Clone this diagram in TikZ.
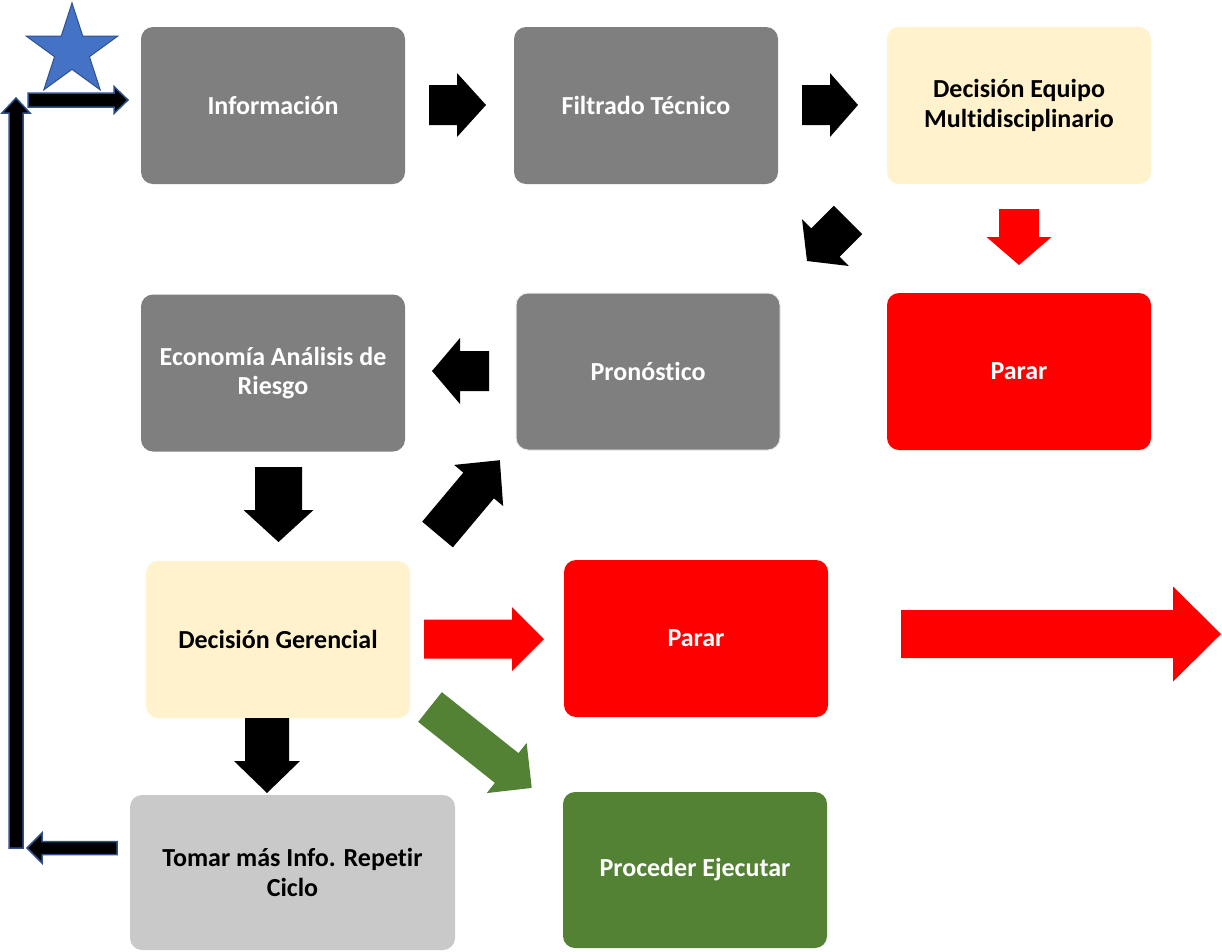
\documentclass[tikz,border=0pt]{standalone}
\usepackage{fontspec}
\setmainfont[Ligatures=NoCommon]{Carlito}
\usetikzlibrary{shapes.geometric}
\definecolor{boxgray}{HTML}{7F7F7F}
\definecolor{boxyellow}{HTML}{FFF2CC}
\definecolor{boxred}{HTML}{FF0000}
\definecolor{boxgreen}{HTML}{548235}
\definecolor{boxlight}{HTML}{C9C9C9}
\definecolor{starfill}{HTML}{4472C4}
\definecolor{starline}{HTML}{2F528F}
\newcommand\blkarrow[8]{%
  \begin{scope}[shift={(#2,#3)},rotate=#4]
    \path[#1] (0,-#6) -- ({#5-#8},-#6) -- ({#5-#8},-#7) -- (#5,0) -- ({#5-#8},#7) -- ({#5-#8},#6) -- (0,#6) -- cycle;
  \end{scope}}
\tikzset{
  box/.style={rounded corners=12pt, minimum width=264pt, minimum height=157pt, inner sep=0pt,
    align=center, font=\fontsize{26}{29.5}\selectfont\bfseries},
  graybox/.style={box, fill=boxgray, text=white},
  yellowbox/.style={box, fill=boxyellow, text=black},
  redbox/.style={box, fill=boxred, text=white},
  greenbox/.style={box, fill=boxgreen, text=white},
  lightbox/.style={box, fill=boxlight, text=black},
  blackarr/.style={fill=black},
  redarr/.style={fill=boxred},
  greenarr/.style={fill=boxgreen},
  framearr/.style={fill=black, draw=starline, line width=1.5pt},
}
\begin{document}
\begin{tikzpicture}[x=1pt,y=-1pt]
\useasboundingbox[fill=white] (0,0) rectangle (1222,951);
% boxes
\node[graybox] (info) at (273,105.5) {Información};
\node[graybox] (filt) at (646,105.5) {Filtrado Técnico};
\node[yellowbox] (equipo) at (1019,105.5) {Decisión Equipo\\Multidisciplinario};
\node[graybox] (econ) at (273,373) {Economía Análisis de\\Riesgo};
\node[graybox, draw=gray!15, line width=1pt] (pron) at (648,371.5) {Pronóstico};
\node[redbox] (parar1) at (1019,371.5) {Parar};
\node[yellowbox] (ger) at (278,639.5) {Decisión Gerencial};
\node[redbox] (parar2) at (696,638.5) {Parar};
\node[lightbox, minimum width=325pt, minimum height=155pt] (tomar) at (292.5,872.5) {Tomar más Info. Repetir\\Ciclo};
\node[greenbox, minimum height=156pt] (proc) at (695,870) {Proceder Ejecutar};
% block arrows
\blkarrow{blackarr}{429}{105}{0}{57}{20}{32}{29}
\blkarrow{blackarr}{802}{105}{0}{56}{20}{32}{28}
\blkarrow{blackarr}{848}{220}{225}{58}{20}{33}{26}
\blkarrow{redarr}{1019}{209}{-90}{56}{20}{32.5}{28}
\blkarrow{blackarr}{489}{371}{180}{57}{20}{33}{28}
\blkarrow{blackarr}{278.5}{467}{-90}{75}{23.5}{35}{32}
\blkarrow{blackarr}{437.5}{534.5}{50}{97}{20}{32}{33}
\blkarrow{redarr}{424}{639}{0}{120}{19.5}{32}{32}
\blkarrow{redarr}{901}{634}{0}{320}{24}{47.5}{48}
\blkarrow{greenarr}{430}{707}{-38.5}{130}{19}{32}{32}
\blkarrow{blackarr}{267}{718}{-90}{75}{22}{33}{32}
% frame arrows
\blkarrow{framearr}{16}{848}{90}{750}{7}{14}{15}
\blkarrow{framearr}{28}{100}{0}{100}{7}{13.5}{14}
\blkarrow{framearr}{117}{848}{180}{90}{6.5}{15}{15}
% star
\node[star, star points=5, star point ratio=2.62, minimum size=96pt, inner sep=0pt,
  fill=starfill, draw=starline, line width=1pt] (star) at (72,51) {};
\end{tikzpicture}
\end{document}
